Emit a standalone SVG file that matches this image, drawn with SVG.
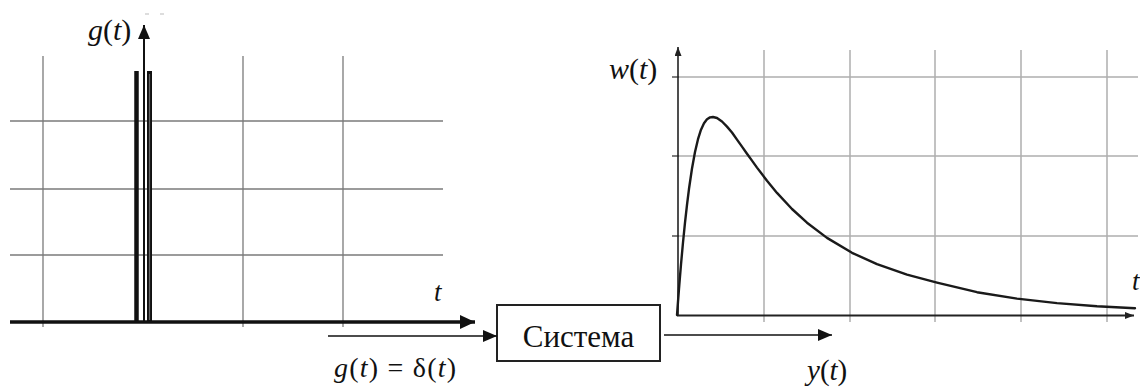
<svg xmlns="http://www.w3.org/2000/svg" width="1140" height="389" viewBox="0 0 1140 389">
<style>
.gridL{stroke:#7a7a7a;stroke-width:1.3;fill:none}
.gridR{stroke:#aeaeae;stroke-width:1.5;fill:none}
.tick{stroke:#555;stroke-width:1.5;fill:none}
.lbl{font-family:"Liberation Serif","DejaVu Serif",serif;font-style:italic;fill:#111}
.box{font-family:"Liberation Serif","DejaVu Serif",serif;fill:#111}
.up{font-style:normal}
.ln{stroke:#111;fill:none}
</style>
<defs>
<marker id="ahBig" markerWidth="16" markerHeight="14" refX="15" refY="7" orient="auto" markerUnits="userSpaceOnUse"><path d="M0,0 L15,7 L0,14 Z" fill="#111"/></marker>
<marker id="ahMid" markerWidth="14" markerHeight="12" refX="14" refY="6" orient="auto" markerUnits="userSpaceOnUse"><path d="M0,0 L14,6 L0,12 Z" fill="#111"/></marker>
<marker id="ahSmall" markerWidth="9" markerHeight="7" refX="9" refY="3.5" orient="auto" markerUnits="userSpaceOnUse"><path d="M0,0 L9,3.5 L0,7 Z" fill="#222"/></marker>
</defs>

<g id="input-chart">
  <line class="gridL" x1="43" y1="56" x2="43" y2="327"/>
  <line class="gridL" x1="243" y1="56" x2="243" y2="327"/>
  <line class="gridL" x1="343" y1="56" x2="343" y2="327"/>
  <line class="gridL" x1="10" y1="121" x2="443" y2="121"/>
  <line class="gridL" x1="10" y1="189" x2="443" y2="189"/>
  <line class="gridL" x1="10" y1="255" x2="443" y2="255"/>
  <line x1="136.5" y1="71" x2="136.5" y2="323" stroke="#111" stroke-width="4.5"/>
  <line x1="149.5" y1="71" x2="149.5" y2="323" stroke="#111" stroke-width="5"/>
  <line x1="149.5" y1="74" x2="149.5" y2="320" stroke="#666" stroke-width="1.2"/>
  <line x1="144" y1="322" x2="144" y2="25" stroke="#111" stroke-width="2" marker-end="url(#ahMid)"/>
  <line x1="10" y1="322" x2="475" y2="322" stroke="#111" stroke-width="3.5" marker-end="url(#ahBig)"/>
  <line x1="145" y1="14" x2="149" y2="14" stroke="#bbb" stroke-width="1"/>
  <line x1="160" y1="14" x2="164" y2="14" stroke="#bbb" stroke-width="1"/>
  <text class="lbl" x="88" y="40" font-size="30">g<tspan class="up">(</tspan>t<tspan class="up">)</tspan></text>
  <text class="lbl" x="434" y="301" font-size="27">t</text>
</g>

<g id="system">
  <rect x="497" y="305" width="163" height="56" fill="#fff" stroke="#222" stroke-width="2"/>
  <text class="box" x="578.5" y="347" font-size="31" text-anchor="middle">Система</text>
</g>

<g id="output-chart">
  <line class="gridR" x1="764" y1="50" x2="764" y2="322"/>
  <line class="gridR" x1="850" y1="50" x2="850" y2="322"/>
  <line class="gridR" x1="935" y1="50" x2="935" y2="322"/>
  <line class="gridR" x1="1021" y1="50" x2="1021" y2="322"/>
  <line class="gridR" x1="1107" y1="50" x2="1107" y2="322"/>
  <line class="gridR" x1="679" y1="77" x2="1138" y2="77"/>
  <line class="gridR" x1="679" y1="156" x2="1138" y2="156"/>
  <line class="gridR" x1="679" y1="236" x2="1138" y2="236"/>
  <line class="tick" x1="672" y1="77" x2="679" y2="77"/>
  <line class="tick" x1="672" y1="156" x2="679" y2="156"/>
  <line class="tick" x1="672" y1="236" x2="679" y2="236"/>
  <line x1="678" y1="316" x2="678" y2="47" stroke="#222" stroke-width="1.6" marker-end="url(#ahSmall)"/>
  <line x1="677" y1="315.5" x2="1134" y2="315.5" stroke="#222" stroke-width="2" marker-end="url(#ahSmall)"/>
  <polyline points="677,315 678,301.6 679,288.7 680,276.3 681,264.5 683,242.5 685,222.7 687,204.8 689,188.8 692,168.5 695,152 698,139.2 701,129.7 704,123.2 707,119.2 710,117.4 713,117 717,118 722,121.5 727,126.6 732,132.5 737,139.6 742,146.6 747,153.7 752,160.6 757,167.6 767,180.8 777,192.9 792,209 807,222.7 827,237.9 852,252.8 877,264.2 907,274.7 937,282.6 977,292.2 1017,298.6 1057,303.1 1097,306.2 1135,308.3" fill="none" stroke="#1a1a1a" stroke-width="2.4" stroke-linejoin="round" stroke-linecap="round"/>
  <text class="lbl" x="609" y="79" font-size="30">w<tspan class="up">(</tspan>t<tspan class="up">)</tspan></text>
  <text class="lbl" x="1132" y="290" font-size="27">t</text>
</g>

<g id="connectors">
  <line class="ln" x1="328" y1="336" x2="497" y2="336" stroke-width="1.6" marker-end="url(#ahMid)"/>
  <line class="ln" x1="664" y1="335" x2="832" y2="335" stroke-width="1.6" marker-end="url(#ahMid)"/>
  <text class="lbl" x="334" y="377" font-size="28" textLength="122" lengthAdjust="spacing">g<tspan class="up">(</tspan>t<tspan class="up">) = δ(</tspan>t<tspan class="up">)</tspan></text>
  <text class="lbl" x="807" y="380" font-size="29">y<tspan class="up">(</tspan>t<tspan class="up">)</tspan></text>
</g>
</svg>
